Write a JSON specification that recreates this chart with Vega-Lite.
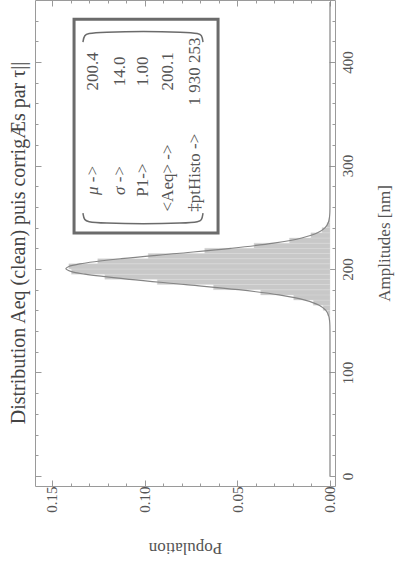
{
  "$schema": "https://vega.github.io/schema/vega-lite/v6.json",
  "width": 300,
  "height": 486,
  "autosize": "none",
  "padding": {"left": 35, "top": 0, "right": 79, "bottom": 80},
  "background": "white",
  "title": {"text": "Distribution Aeq (clean) puis corrigÆs par τ||", "orient": "left", "anchor": "middle", "font": "Liberation Serif", "fontSize": 20, "fontWeight": "normal", "color": "#444444", "offset": 6},
  "config": {
    "view": {"stroke": "#9a9a9a", "strokeWidth": 1},
    "axis": {"labelFont": "Liberation Serif", "titleFont": "Liberation Serif", "labelColor": "#555555", "titleColor": "#555555", "grid": false, "domain": false, "tickColor": "#9a9a9a", "labelFontSize": 15, "titleFontSize": 17, "titleFontWeight": "normal"}
  },
  "datasets": {
    "histo": [
      {"lo": 150, "hi": 155, "pop": 0.0004},
      {"lo": 155, "hi": 160, "pop": 0.0013},
      {"lo": 160, "hi": 165, "pop": 0.0037},
      {"lo": 165, "hi": 170, "pop": 0.0090},
      {"lo": 170, "hi": 175, "pop": 0.0196},
      {"lo": 175, "hi": 180, "pop": 0.0374},
      {"lo": 180, "hi": 185, "pop": 0.0629},
      {"lo": 185, "hi": 190, "pop": 0.0932},
      {"lo": 190, "hi": 195, "pop": 0.1215},
      {"lo": 195, "hi": 200, "pop": 0.1395},
      {"lo": 200, "hi": 205, "pop": 0.1409},
      {"lo": 205, "hi": 210, "pop": 0.1253},
      {"lo": 210, "hi": 215, "pop": 0.0981},
      {"lo": 215, "hi": 220, "pop": 0.0676},
      {"lo": 220, "hi": 225, "pop": 0.0410},
      {"lo": 225, "hi": 230, "pop": 0.0219},
      {"lo": 230, "hi": 235, "pop": 0.0103},
      {"lo": 235, "hi": 240, "pop": 0.0043},
      {"lo": 240, "hi": 245, "pop": 0.0016},
      {"lo": 245, "hi": 250, "pop": 0.0005}
    ],
    "curve": [
      {"A": 0, "p": 0}, {"A": 100, "p": 0}, {"A": 130, "p": 0.000001},
      {"A": 140, "p": 0.000013}, {"A": 145, "p": 0.000057}, {"A": 150, "p": 0.00022},
      {"A": 155, "p": 0.00074}, {"A": 160, "p": 0.00222}, {"A": 165, "p": 0.00583},
      {"A": 170, "p": 0.01349}, {"A": 175, "p": 0.02749}, {"A": 180, "p": 0.04929},
      {"A": 185, "p": 0.07782}, {"A": 190, "p": 0.10814}, {"A": 195, "p": 0.13228},
      {"A": 197.5, "p": 0.13948}, {"A": 200.4, "p": 0.1425}, {"A": 202.5, "p": 0.1409},
      {"A": 205, "p": 0.1350}, {"A": 210, "p": 0.11265}, {"A": 215, "p": 0.08272},
      {"A": 220, "p": 0.05348}, {"A": 225, "p": 0.03044}, {"A": 230, "p": 0.01525},
      {"A": 235, "p": 0.00672}, {"A": 240, "p": 0.00261}, {"A": 245, "p": 0.00089},
      {"A": 250, "p": 0.00027}, {"A": 255, "p": 0.00007}, {"A": 260, "p": 0.00002},
      {"A": 270, "p": 0}, {"A": 300, "p": 0}, {"A": 458, "p": 0}
    ],
    "box": [{"p1": 0.1381, "p2": 0.0604, "a1": 441.5, "a2": 234.8}],
    "parens": [
      {"g": "top", "i": 1, "p": 0.13328, "A": 419.3},
      {"g": "top", "i": 2, "p": 0.13274, "A": 426.0},
      {"g": "top", "i": 3, "p": 0.12950, "A": 429.5},
      {"g": "top", "i": 4, "p": 0.07178, "A": 429.5},
      {"g": "top", "i": 5, "p": 0.06907, "A": 426.0},
      {"g": "top", "i": 6, "p": 0.06853, "A": 419.3},
      {"g": "bot", "i": 1, "p": 0.13328, "A": 254.0},
      {"g": "bot", "i": 2, "p": 0.13274, "A": 247.3},
      {"g": "bot", "i": 3, "p": 0.12950, "A": 243.8},
      {"g": "bot", "i": 4, "p": 0.07178, "A": 243.8},
      {"g": "bot", "i": 5, "p": 0.06907, "A": 247.3},
      {"g": "bot", "i": 6, "p": 0.06853, "A": 254.0}
    ],
    "cells": [
      {"p": 0.1279, "A": 391, "t": "200.4", "k": "num"},
      {"p": 0.1133, "A": 391, "t": "14.0", "k": "num"},
      {"p": 0.1009, "A": 391, "t": "1.00", "k": "num"},
      {"p": 0.0874, "A": 391, "t": "200.1", "k": "num"},
      {"p": 0.0728, "A": 391, "t": "1 930 253", "k": "num"},
      {"p": 0.1279, "A": 286, "t": "μ ->", "k": "greek"},
      {"p": 0.1133, "A": 286, "t": "σ ->", "k": "greek"},
      {"p": 0.1009, "A": 286, "t": "P1->", "k": "lab"},
      {"p": 0.0874, "A": 288, "t": "<Aeq> ->", "k": "lab"},
      {"p": 0.0728, "A": 293, "t": "‡ptHisto ->", "k": "lab"}
    ]
  },
  "layer": [
    {
      "data": {"name": "histo"},
      "mark": {"type": "rect", "fill": "#c8c8c8", "stroke": "#dcdcdc", "strokeWidth": 0.4},
      "encoding": {
        "y": {"field": "lo", "type": "quantitative", "scale": {"domain": [-9.7, 460], "nice": false, "zero": false},
              "axis": {"orient": "right", "values": [0, 100, 200, 300, 400], "tickSize": -6, "labelAngle": 270, "labelAlign": "center", "labelBaseline": "top", "labelPadding": 11, "title": "Amplitudes [nm]", "titleAngle": 270, "titleBaseline": "top", "titlePadding": 21}},
        "y2": {"field": "hi"},
        "x": {"field": "pop", "type": "quantitative", "scale": {"domain": [-0.0027, 0.15917], "reverse": true, "nice": false, "zero": false},
              "axis": {"orient": "bottom", "values": [0, 0.05, 0.1, 0.15], "format": ".2f", "tickSize": -6, "labelAngle": 270, "labelAlign": "right", "labelBaseline": "middle", "labelPadding": 6, "title": "Population", "titleAngle": 180, "titleBaseline": "bottom", "titlePadding": 26}},
        "x2": {"datum": 0}
      }
    },
    {
      "data": {"name": "curve"},
      "mark": {"type": "line", "color": "#858585", "strokeWidth": 1.2, "interpolate": "catmull-rom"},
      "encoding": {
        "y": {"field": "A", "type": "quantitative", "scale": {"domain": [-9.7, 460], "nice": false, "zero": false},
              "axis": {"orient": "right", "values": [20, 40, 60, 80, 120, 140, 160, 180, 220, 240, 260, 280, 320, 340, 360, 380, 420, 440], "tickSize": -3, "labels": false, "title": null}},
        "x": {"field": "p", "type": "quantitative", "scale": {"domain": [-0.0027, 0.15917], "reverse": true, "nice": false, "zero": false},
              "axis": {"orient": "bottom", "values": [0.01, 0.02, 0.03, 0.04, 0.06, 0.07, 0.08, 0.09, 0.11, 0.12, 0.13, 0.14], "tickSize": -3, "labels": false, "title": null}},
        "order": {"field": "A", "type": "quantitative"}
      }
    },
    {
      "data": {"name": "box"},
      "mark": {"type": "rect", "fill": "white", "stroke": "#6b6b6b", "strokeWidth": 3},
      "encoding": {
        "y": {"field": "a1", "type": "quantitative", "scale": {"domain": [-9.7, 460], "nice": false, "zero": false},
              "axis": {"orient": "left", "values": [0, 100, 200, 300, 400], "tickSize": -6, "labels": false, "title": null}},
        "y2": {"field": "a2"},
        "x": {"field": "p1", "type": "quantitative", "scale": {"domain": [-0.0027, 0.15917], "reverse": true, "nice": false, "zero": false},
              "axis": {"orient": "top", "values": [0, 0.05, 0.1, 0.15], "tickSize": -6, "labels": false, "title": null}},
        "x2": {"field": "p2"}
      }
    },
    {
      "data": {"name": "parens"},
      "mark": {"type": "line", "color": "#6b6b6b", "strokeWidth": 1.5, "interpolate": "basis"},
      "encoding": {
        "y": {"field": "A", "type": "quantitative", "scale": {"domain": [-9.7, 460], "nice": false, "zero": false},
              "axis": {"orient": "left", "values": [20, 40, 60, 80, 120, 140, 160, 180, 220, 240, 260, 280, 320, 340, 360, 380, 420, 440], "tickSize": -3, "labels": false, "title": null}},
        "x": {"field": "p", "type": "quantitative", "scale": {"domain": [-0.0027, 0.15917], "reverse": true, "nice": false, "zero": false},
              "axis": {"orient": "top", "values": [0.01, 0.02, 0.03, 0.04, 0.06, 0.07, 0.08, 0.09, 0.11, 0.12, 0.13, 0.14], "tickSize": -3, "labels": false, "title": null}},
        "detail": {"field": "g", "type": "nominal"},
        "order": {"field": "i", "type": "quantitative"}
      }
    },
    {
      "data": {"name": "cells"},
      "transform": [{"filter": "datum.k != 'greek'"}],
      "mark": {"type": "text", "angle": 270, "align": "center", "baseline": "middle", "font": "Liberation Serif", "fontSize": 17, "color": "#555555"},
      "encoding": {
        "y": {"field": "A", "type": "quantitative", "scale": {"domain": [-9.7, 460], "nice": false, "zero": false}, "axis": null},
        "x": {"field": "p", "type": "quantitative", "scale": {"domain": [-0.0027, 0.15917], "reverse": true, "nice": false, "zero": false}, "axis": null},
        "text": {"field": "t", "type": "nominal"}
      }
    },
    {
      "data": {"name": "cells"},
      "transform": [{"filter": "datum.k == 'greek'"}],
      "mark": {"type": "text", "angle": 270, "align": "center", "baseline": "middle", "font": "Liberation Serif", "fontStyle": "italic", "fontSize": 17, "color": "#555555"},
      "encoding": {
        "y": {"field": "A", "type": "quantitative", "scale": {"domain": [-9.7, 460], "nice": false, "zero": false}, "axis": null},
        "x": {"field": "p", "type": "quantitative", "scale": {"domain": [-0.0027, 0.15917], "reverse": true, "nice": false, "zero": false}, "axis": null},
        "text": {"field": "t", "type": "nominal"}
      }
    }
  ],
  "resolve": {"axis": {"x": "independent", "y": "independent"}}
}
